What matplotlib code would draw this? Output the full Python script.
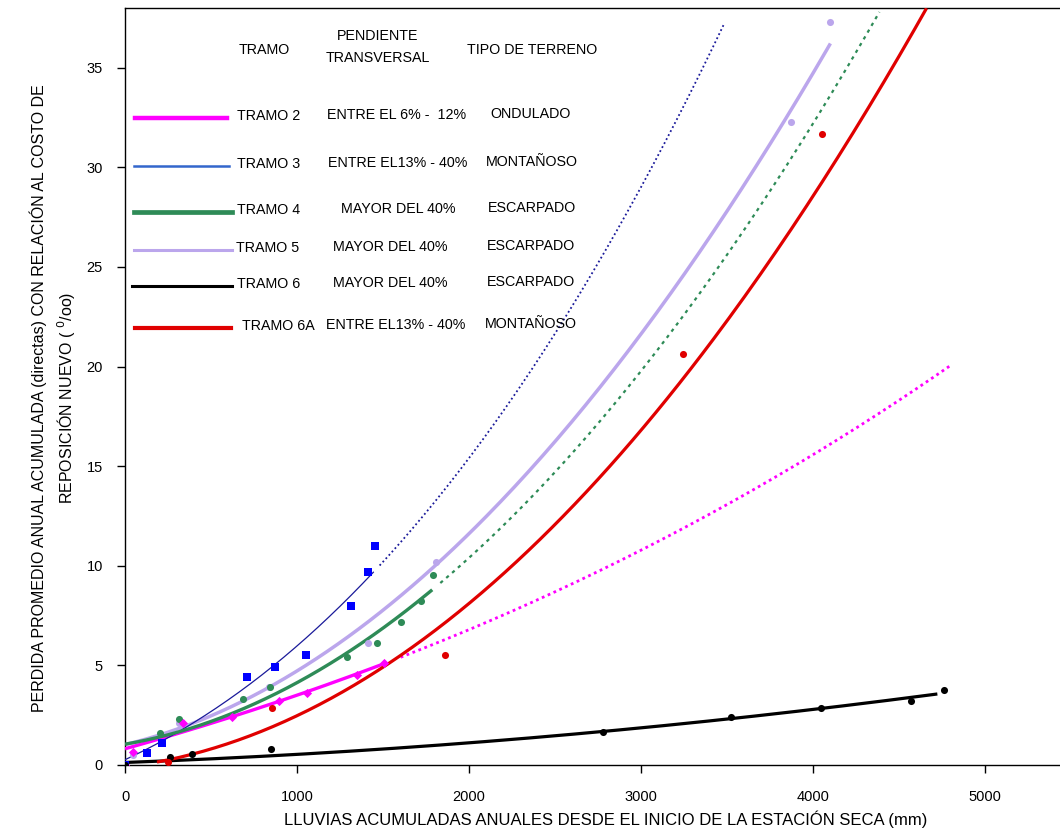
import numpy as np
import matplotlib
matplotlib.use("Agg")
import matplotlib.pyplot as plt

plt.rcParams['font.family'] = ['Liberation Sans', 'DejaVu Sans']

# ---------------- data ----------------
# Observed points (x = lluvia acumulada mm, y = perdida o/oo)
t2_x = [0, 47, 338, 624, 897, 1061, 1352, 1509]
t2_y = [0.0, 0.65, 2.1, 2.4, 3.2, 3.6, 4.5, 5.1]
t3_x = [0, 128, 216, 711, 874, 1055, 1317, 1416, 1457]
t3_y = [0.0, 0.6, 1.1, 4.4, 4.9, 5.5, 8.0, 9.7, 11.0]
t4_x = [0, 204, 315, 688, 845, 1294, 1463, 1606, 1719, 1791]
t4_y = [0.0, 1.6, 2.3, 3.3, 3.9, 5.4, 6.1, 7.2, 8.25, 9.55]
t5_x = [47, 315, 839, 1416, 1807, 3875, 4103]
t5_y = [0.5, 2.1, 3.9, 6.1, 10.2, 32.3, 37.3]
t6_x = [0, 262, 388, 850, 2778, 3525, 4051, 4569, 4763]
t6_y = [0.0, 0.42, 0.55, 0.8, 1.64, 2.43, 2.85, 3.23, 3.77]
t6a_x = [252, 855, 1863, 3245, 4056]
t6a_y = [0.17, 2.85, 5.53, 20.65, 31.7]

t2_fit_x = [0, 300, 621, 893, 1059, 1204, 1350, 1505]
t2_fit_y = [0.65, 1.85, 2.43, 3.18, 3.6, 4.0, 4.52, 5.2]
t2_ext_x = [1603, 2185, 2649, 3425, 3929, 4808]
t2_ext_y = [5.36, 7.5, 9.38, 12.65, 15.2, 20.1]

t3_fit_x = [0, 301, 689, 1061, 1136, 1311, 1447]
t3_fit_y = [0.15, 1.8, 3.85, 6.3, 6.95, 8.3, 9.7]
t3_ext_x = [1481, 1871, 2262, 2609, 3046, 3483]
t3_ext_y = [10.6, 13.65, 18.3, 23.4, 29.8, 37.1]

t4_fit_x = [0, 300, 624, 1061, 1294, 1484, 1603, 1787]
t4_fit_y = [0.85, 1.8, 2.75, 4.6, 5.7, 6.78, 7.3, 8.55]
t4_ext_x = [1834, 2649, 3309, 3934, 4388]
t4_ext_y = [8.8, 16.7, 23.4, 30.8, 38.0]

t5_fit_x = [0, 300, 624, 1061, 1481, 1797, 1970, 2262, 2649, 3152, 3351, 3858, 4103]
t5_fit_y = [1.0, 1.85, 3.0, 4.9, 7.6, 10.05, 11.3, 14.0, 17.8, 23.4, 25.9, 32.4, 36.4]

t6_fit_x = [0, 851, 2532, 3525, 4051, 4725]
t6_fit_y = [0.1, 0.5, 1.5, 2.31, 2.8, 3.6]

t6a_fit_x = [186, 301, 495, 787, 1078, 1481, 2262, 2649, 3038, 3351, 3600, 4068, 4662]
t6a_fit_y = [0.1, 0.42, 0.84, 1.67, 2.68, 4.77, 10.1, 13.6, 17.2, 20.4, 23.4, 29.5, 38.0]

# Legend table
leg_tramo = ["TRAMO 2", "TRAMO 3", "TRAMO 4", "TRAMO 5", "TRAMO 6", "TRAMO 6A"]
leg_pend = ["ENTRE EL 6% -  12%", "ENTRE EL13% - 40%", "MAYOR DEL 40%",
            "MAYOR DEL 40%", "MAYOR DEL 40%", "ENTRE EL13% - 40%"]
leg_terr = ["ONDULADO", "MONTAÑOSO", "ESCARPADO", "ESCARPADO", "ESCARPADO", "MONTAÑOSO"]

x_ticks = [0, 1000, 2000, 3000, 4000, 5000]
y_ticks = [0, 5, 10, 15, 20, 25, 30, 35]

# ---------------- styles ----------------
C2 = '#ff00ff'
C3_pt = '#0000ff'
C3_ln = '#1a1a9a'
C3_leg = '#3366cc'
C4 = '#2e8b57'
C5 = '#bba6ec'
C6 = '#000000'
C6A = '#e00000'

W, H = 1060, 835
fig = plt.figure(figsize=(W / 100, H / 100), dpi=100)
ax = fig.add_axes([125 / W, 1 - 765 / H, (W - 125) / W + 0.01, (765 - 8) / H])

ax.set_xlim(0, 5500)
ax.set_ylim(0, 38.0)


def trend(xs_all, ys_all, deg):
    """smooth polynomial trend line through the curve samples (like a spreadsheet trendline)"""
    return np.poly1d(np.polyfit(xs_all, ys_all, deg))


def draw_trend(fit_x, fit_y, ext_x, ext_y, deg, color, lw_solid, lw_dot, dot_style, z=3):
    p = trend(list(fit_x) + list(ext_x), list(fit_y) + list(ext_y), deg)
    xs = np.linspace(min(fit_x), max(fit_x), 200)
    ax.plot(xs, p(xs), color=color, lw=lw_solid, zorder=z, solid_capstyle='butt')
    if ext_x:
        xe = np.linspace(min(ext_x), max(ext_x), 200)
        ax.plot(xe, p(xe), color=color, lw=lw_dot, ls=dot_style, zorder=z)


draw_trend(t5_fit_x, t5_fit_y, [], [], 3, C5, 2.5, 0, None, z=2)
draw_trend(t2_fit_x, t2_fit_y, t2_ext_x, t2_ext_y, 3, C2, 2.4, 2.0, (0, (1, 1.3)))
draw_trend(t3_fit_x, t3_fit_y, t3_ext_x, t3_ext_y, 3, C3_ln, 0.9, 1.3, (0, (1, 1.5)))
draw_trend(t4_fit_x, t4_fit_y, t4_ext_x, t4_ext_y, 3, C4, 2.4, 1.6, (0, (1.5, 2)))
draw_trend(t6_fit_x, t6_fit_y, [], [], 2, C6, 2.3, 0, None)
draw_trend(t6a_fit_x, t6a_fit_y, [], [], 3, C6A, 2.3, 0, None)

# points
ax.scatter(t5_x, t5_y, marker='o', s=26, color=C5, zorder=4, linewidths=0)
ax.scatter(t4_x, t4_y, marker='o', s=26, color=C4, zorder=4, linewidths=0)
ax.scatter(t2_x, t2_y, marker='D', s=22, color=C2, zorder=4, linewidths=0)
ax.scatter(t3_x, t3_y, marker='s', s=36, color=C3_pt, zorder=5, linewidths=0)
ax.scatter(t6_x, t6_y, marker='o', s=26, color=C6, zorder=5, linewidths=0)
ax.scatter(t6a_x, t6a_y, marker='o', s=26, color=C6A, zorder=5, linewidths=0)

# axes styling
ax.spines['right'].set_visible(False)
for s in ['left', 'bottom', 'top']:
    ax.spines[s].set_linewidth(1.0)
ax.set_xticks(x_ticks)
ax.set_yticks(y_ticks)
ax.tick_params(direction='out', length=6, width=1, labelsize=10.5)
ax.tick_params(axis='y', pad=10)
ax.tick_params(axis='x', pad=12)
ax.tick_params(top=False)

# axis titles
fig.text(606 / W, 1 - 819 / H,
         "LLUVIAS ACUMULADAS ANUALES DESDE EL INICIO DE LA ESTACIÓN SECA (mm)",
         ha='center', va='center', fontsize=12)
fig.text(38 / W, 1 - 398 / H,
         "PERDIDA PROMEDIO ANUAL ACUMULADA (directas) CON RELACIÓN AL COSTO DE",
         rotation=90, ha='center', va='center', fontsize=11.5)
fig.text(66 / W, 1 - 398 / H, r"REPOSICIÓN NUEVO ( $^{0}$/oo)",
         rotation=90, ha='center', va='center', fontsize=11.5)

# ---------------- legend table ----------------
def fx(px):
    return px / W


def fy(py):
    return 1 - py / H


fs = 10.3
fig.text(fx(264), fy(50), "TRAMO", ha='center', va='center', fontsize=fs)
fig.text(fx(378), fy(36), "PENDIENTE", ha='center', va='center', fontsize=fs)
fig.text(fx(378), fy(58), "TRANSVERSAL", ha='center', va='center', fontsize=fs)
fig.text(fx(532), fy(50), "TIPO DE TERRENO", ha='center', va='center', fontsize=fs)

row_y = [116, 164, 210, 248, 284, 326]
line_x0 = [135, 134, 134, 134, 132, 135]
line_x1 = [227, 229, 232, 232, 232, 231]
line_c = [C2, C3_leg, C4, C5, C6, C6A]
line_w = [3.2, 1.8, 3.4, 2.2, 2.2, 3.0]
name_x = [237, 237, 237, 236, 237, 242]
pend_x = [397, 398, 398, 390, 390, 396]
terr_x = [531, 532, 532, 531, 531, 531]

for i in range(len(leg_tramo)):
    y = row_y[i]
    fig.add_artist(plt.Line2D([fx(line_x0[i]), fx(line_x1[i])], [fy(y + 2), fy(y + 2)],
                              color=line_c[i], lw=line_w[i], transform=fig.transFigure))
    fig.text(fx(name_x[i]), fy(y), leg_tramo[i], ha='left', va='center', fontsize=fs)
    fig.text(fx(pend_x[i]), fy(y - 1), leg_pend[i], ha='center', va='center', fontsize=fs)
    fig.text(fx(terr_x[i]), fy(y - 2), leg_terr[i], ha='center', va='center', fontsize=fs)

fig.savefig("out.png", dpi=100)
